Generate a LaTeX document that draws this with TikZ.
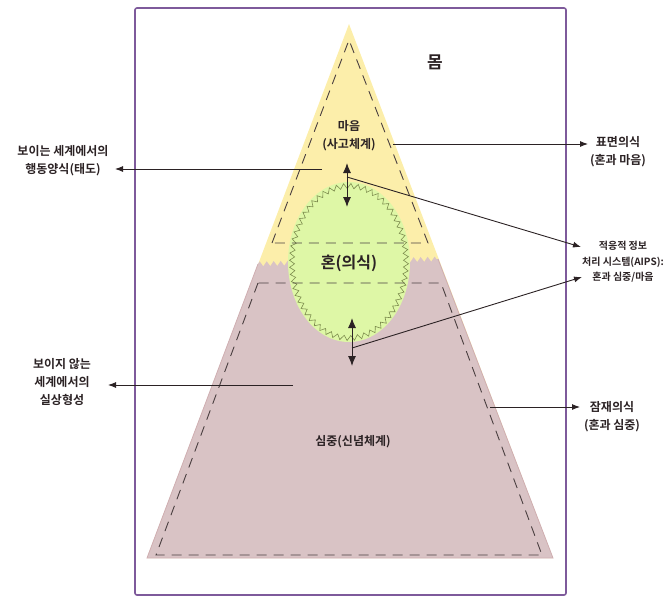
\documentclass[tikz,border=0pt]{standalone}
\usepackage{fontspec}
\newfontfamily\kr{Noto Sans CJK KR Bold}
\usetikzlibrary{arrows.meta,decorations.pathmorphing}
\definecolor{frm}{HTML}{7E5A9B}
\definecolor{yel}{HTML}{FCEEAA}
\definecolor{pnk}{HTML}{D9C3C5}
\definecolor{pnkedge}{HTML}{CFAEB2}
\definecolor{grn}{HTML}{DEF7A6}
\definecolor{zig}{HTML}{7D8C4E}
\definecolor{dsh}{HTML}{4A3F40}
\definecolor{ink}{HTML}{2B2224}
\begin{document}
\begin{tikzpicture}[x=1pt,y=-1pt,
  lbl/.style={align=center, inner sep=0pt, text=ink, font=\kr\fontsize{12}{18}\selectfont},
  dashline/.style={dsh, line width=0.9pt, dash pattern=on 10pt off 7pt},
  ptr/.style={ink, line width=0.9pt, -{Latex[length=8pt,width=6pt]}},
  dbl/.style={ink, line width=1pt, {Latex[length=10pt,width=8pt]}-{Latex[length=10pt,width=8pt]}},
  zz/.style={decoration={zigzag,segment length=7pt,amplitude=2.5pt}}]
\useasboundingbox (0,0) rectangle (672,605);
% frame
\draw[frm, line width=1.6pt, rounded corners=2pt] (135,8) rectangle (566,595);
% yellow triangle
\fill[yel] (349,24) -- (553,558) -- (147,558) -- cycle;
% pink lower part with zigzag top
\fill[pnk] (147,558) -- (258,264) decorate[zz]{-- (438,259)} -- (553,558) -- cycle;
\draw[pnkedge, line width=0.8pt] (258,264) -- (147,558) -- (553,558) -- (438,259);
% green ellipse
\fill[grn] (349,262) ellipse [x radius=61pt, y radius=80pt];
\draw[zig, line width=0.6pt, decorate, zz] (349,262) ellipse [x radius=57pt, y radius=76pt];
% dashed shapes
\draw[dashline] (272,243) -- (349,40) -- (428,243) -- cycle;
\draw[dashline] (258,283) -- (156,555) -- (542,555) -- (441,283) -- cycle;
% texts
\node[lbl, font=\kr\fontsize{17}{20}\selectfont] (mom) at (435,62) {몸};
\node[lbl] (maum) at (349,136) {마음\\(사고체계)};
\node[lbl, font=\kr\fontsize{16}{20}\selectfont] (hon) at (349,263) {혼(의식)};
\node[lbl] (simjung) at (353,442) {심중(신념체계)};
\node[lbl] (L1) at (63,161) {보이는 세계에서의\\행동양식(태도)};
\node[lbl] (L2) at (62,382) {보이지 않는\\세계에서의\\실상형성};
\node[lbl] (R1) at (618,152) {표면의식\\(혼과 마음)};
\node[lbl, font=\kr\fontsize{10}{15.5}\selectfont] (R2) at (623,262) {적응적 정보\\처리 시스템(AIPS):\\혼과 심중/마음};
\node[lbl] (R3) at (612,417) {잠재의식\\(혼과 심중)};
% coordinates
\coordinate (dA1) at (347,163); \coordinate (dA2) at (347,207);
\coordinate (dB1) at (352,318); \coordinate (dB2) at (352,366);
\coordinate (sL1) at (322,169); \coordinate (tL1) at (115,169);
\coordinate (sL2) at (293,385); \coordinate (tL2) at (108,385);
\coordinate (sR1) at (393,144); \coordinate (tR1) at (588,144);
\coordinate (sR2a) at (347,177); \coordinate (tR2a) at (581,247);
\coordinate (sR2b) at (352,348); \coordinate (tR2b) at (582,277);
\coordinate (sR3) at (490,407); \coordinate (tR3) at (580,407);
% connectors
\draw[dbl] (dA1) -- (dA2);
\draw[dbl] (dB1) -- (dB2);
\draw[ptr] (sL1) -- (tL1);
\draw[ptr] (sL2) -- (tL2);
\draw[ptr] (sR1) -- (tR1);
\draw[ptr] (sR2a) -- (tR2a);
\draw[ptr] (sR2b) -- (tR2b);
\draw[ptr] (sR3) -- (tR3);
\end{tikzpicture}
\end{document}
